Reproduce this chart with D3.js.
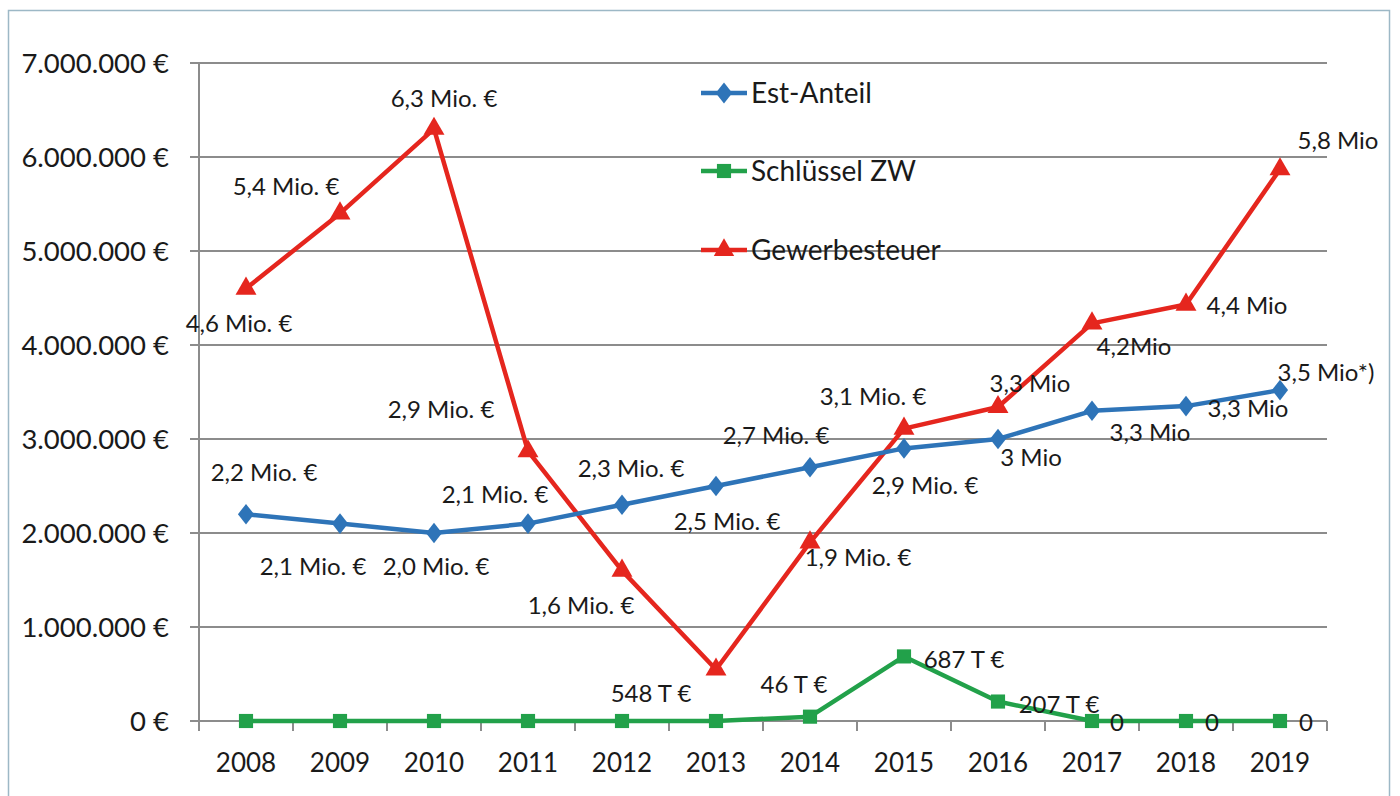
<!DOCTYPE html>
<html><head><meta charset="utf-8">
<script src="https://cdn.jsdelivr.net/npm/d3@7"></script>
<style>
html,body{margin:0;padding:0;background:#fff;}
svg{display:block;font-family:Lato,"Open Sans",sans-serif;}
</style></head>
<body><svg id="c" width="1400" height="796"></svg>
<script>
const years = ["2008","2009","2010","2011","2012","2013","2014","2015","2016","2017","2018","2019"];
const yTicks = [0,1000000,2000000,3000000,4000000,5000000,6000000,7000000];
const yTickLabels = ["0 €","1.000.000 €","2.000.000 €","3.000.000 €","4.000.000 €","5.000.000 €","6.000.000 €","7.000.000 €"];
const estAnteil = [2200000,2100000,2000000,2100000,2300000,2500000,2700000,2900000,3000000,3300000,3350000,3520000];
const schluesselZW = [0,0,0,0,0,0,46000,687000,207000,0,0,0];
const gewerbesteuer = [4600000,5400000,6300000,2870000,1600000,548000,1900000,3110000,3340000,4230000,4430000,5870000];
const estLabels = ["2,2 Mio. €","2,1 Mio. €","2,0 Mio. €","2,1 Mio. €","2,3 Mio. €","2,5 Mio. €","2,7 Mio. €","2,9 Mio. €","3 Mio","3,3 Mio","3,3 Mio","3,5 Mio*)"];
const zwLabels = ["","","","","","","46 T €","687 T €","207 T €","0","0","0"];
const gstLabels = ["4,6 Mio. €","5,4 Mio. €","6,3 Mio. €","2,9 Mio. €","1,6 Mio. €","548 T €","1,9 Mio. €","3,1 Mio. €","3,3 Mio","4,2Mio","4,4 Mio","5,8 Mio"];
const seriesNames = ["Est-Anteil","Schlüssel ZW","Gewerbesteuer"];

// label placement (layout only)
const estOff = [[18,-42],[-27,43],[2,34],[-33,-29],[9,-36],[11,36],[-34,-32],[21,37],[33,19],[58,22],[62,2],[46,-18]];
const zwOff = [[0,0],[0,0],[0,0],[0,0],[0,0],[0,0],[-16,-32],[60,3],[61,3],[25,2],[26,2],[26,2]];
const gstOff = [[-7,35],[-54,-27],[10,-30],[-87,-42],[-41,35],[-65,24],[48,15],[-31,-32],[32,-23],[42,23],[61,1],[58,-29]];

const svg = d3.select("#c");
const L = 199, R = 1327, T = 63, B = 721;

svg.append("rect").attr("x",8.5).attr("y",10.5).attr("width",1381).attr("height",800)
  .attr("fill","#fff").attr("stroke","#9db8c6").attr("stroke-width",1.5);

const x = d3.scaleBand().domain(years).range([L,R]);
const y = d3.scaleLinear().domain([0,7000000]).range([B,T]);

// gridlines
svg.append("g").selectAll("line").data(yTicks).join("line")
  .attr("x1",L-9).attr("x2",R).attr("y1",d=>y(d)).attr("y2",d=>y(d))
  .attr("stroke","#8c8c8c").attr("stroke-width",2);

// y axis line
svg.append("line").attr("x1",L).attr("x2",L).attr("y1",T).attr("y2",B+10)
  .attr("stroke","#8c8c8c").attr("stroke-width",2);

// y tick labels
svg.append("g").selectAll("text").data(yTicks).join("text")
  .attr("x",169).attr("y",d=>y(d)).attr("dy","0.35em").attr("text-anchor","end")
  .attr("font-size",27.5).attr("fill","#1a1a1a").text((d,i)=>yTickLabels[i]);

// x axis ticks
const bounds = years.map(d=>x(d)).concat([R]);
svg.append("g").selectAll("line").data(bounds).join("line")
  .attr("x1",d=>d).attr("x2",d=>d).attr("y1",B).attr("y2",B+10)
  .attr("stroke","#8c8c8c").attr("stroke-width",2);
svg.append("g").selectAll("text").data(years).join("text")
  .attr("x",d=>x(d)+x.bandwidth()/2).attr("y",763).attr("dy","0.35em")
  .attr("text-anchor","middle").attr("font-size",26).attr("fill","#1a1a1a").text(d=>d);

const cx = i => x(years[i]) + x.bandwidth()/2;
const line = d3.line().x((d,i)=>cx(i)).y(d=>y(d));

const colors = {blue:"#2e74b8", green:"#22a14a", red:"#e5261e"};

function drawSeries(vals, color, shape, size) {
  svg.append("path").datum(vals).attr("d",line).attr("fill","none")
    .attr("stroke",color).attr("stroke-width",4.5).attr("stroke-linejoin","round");
  const sym = d3.symbol().type(shape).size(size);
  svg.append("g").selectAll("path").data(vals).join("path")
    .attr("d",sym).attr("fill",color)
    .attr("transform",(d,i)=>`translate(${cx(i)},${y(d)})`+(shape===d3.symbolDiamond?" scale(1.15,0.85)":""));
}

drawSeries(gewerbesteuer, colors.red, d3.symbolTriangle, 190);
drawSeries(estAnteil, colors.blue, d3.symbolDiamond, 170);
drawSeries(schluesselZW, colors.green, d3.symbolSquare, 200);

function drawLabels(vals, labels, off) {
  svg.append("g").selectAll("text").data(vals).join("text")
    .attr("x",(d,i)=>cx(i)+off[i][0]).attr("y",(d,i)=>y(d)+off[i][1]).attr("dy","0.35em")
    .attr("text-anchor","middle").attr("font-size",24).attr("fill","#1a1a1a")
    .text((d,i)=>labels[i]);
}
drawLabels(gewerbesteuer, gstLabels, gstOff);
drawLabels(estAnteil, estLabels, estOff);
drawLabels(schluesselZW, zwLabels, zwOff);

// legend
const legY = [93,171,250];
const legCol = [colors.blue, colors.green, colors.red];
const legShape = [d3.symbolDiamond, d3.symbolSquare, d3.symbolTriangle];
const leg = svg.append("g").selectAll("g").data(seriesNames).join("g")
  .attr("transform",(d,i)=>`translate(701,${legY[i]})`);
leg.append("line").attr("x1",0).attr("x2",46).attr("stroke",(d,i)=>legCol[i]).attr("stroke-width",4.5);
leg.append("path").attr("d",(d,i)=>d3.symbol().type(legShape[i]).size(i===1?200:180)())
  .attr("fill",(d,i)=>legCol[i]).attr("transform",(d,i)=>"translate(23,0)"+(i===0?" scale(1.15,0.85)":""));
leg.append("text").attr("x",50).attr("dy","0.35em").attr("font-size",28).attr("fill","#1a1a1a").text(d=>d);
</script></body></html>
